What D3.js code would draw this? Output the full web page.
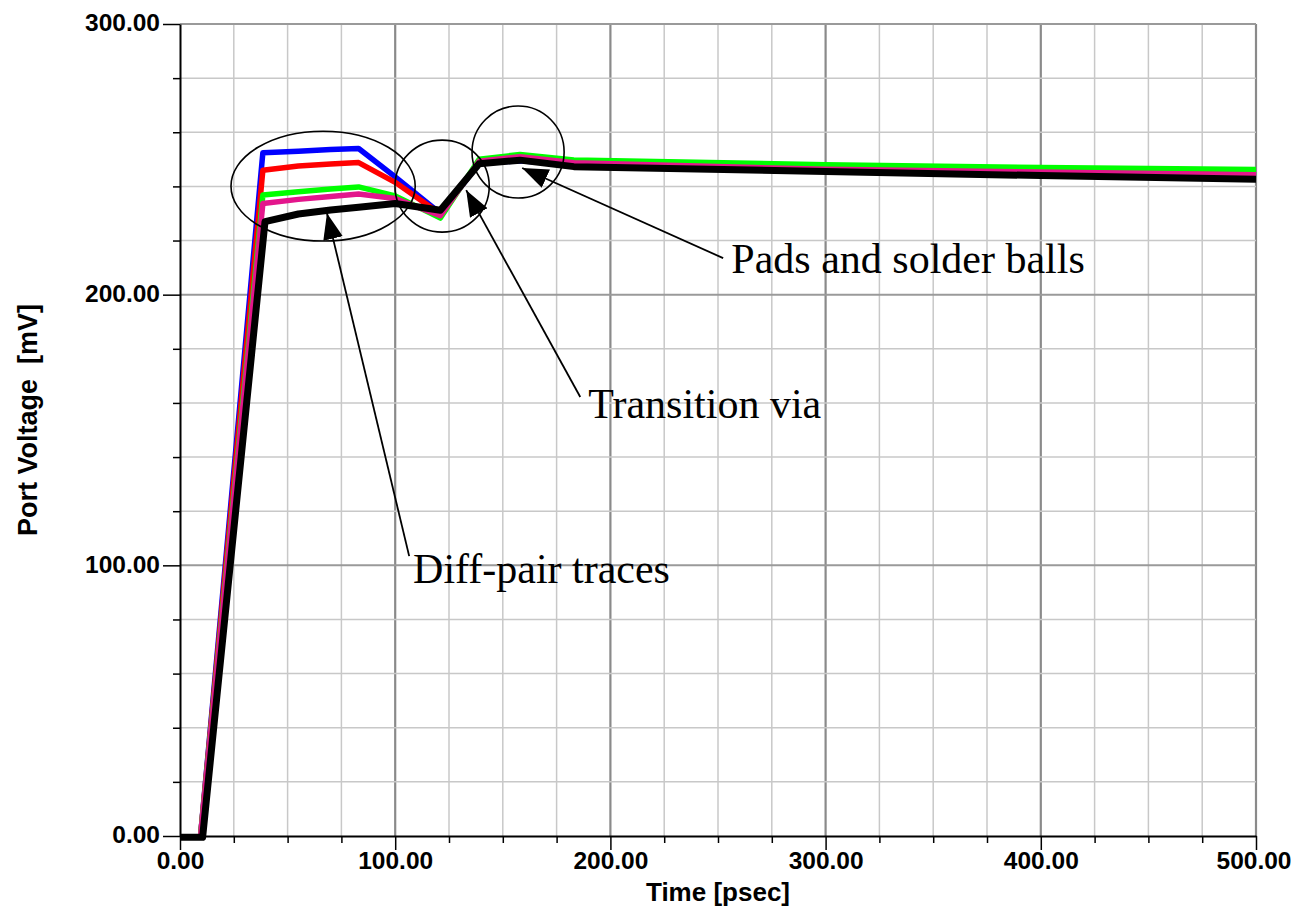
<!DOCTYPE html>
<html>
<head>
<meta charset="utf-8">
<script src="https://cdn.jsdelivr.net/npm/d3@7"></script>
<style>
  html, body { margin: 0; padding: 0; background: #fff; }
  svg { display: block; }
</style>
</head>
<body>
<svg id="chart" width="1293" height="909"></svg>
<script>
// Port voltage step response (TDR) for several interconnect models
const timeColored = [0, 9.5, 38.5, 55, 70, 83, 100, 121, 139, 158, 183, 300, 400, 500];
const timeBlack   = [0, 10.5, 39.5, 55, 70, 83, 100, 121, 139, 158, 183, 300, 400, 500];

const blueValues  = [-0.5, -0.5, 252.4, 253, 253.6, 254, 243.5, 230, 248.5, 249.5, 248, 246, 244.8, 243.5];
const redValues   = [-0.5, -0.5, 246, 247.5, 248.3, 248.8, 241.5, 229.8, 249, 251, 248.5, 246.5, 245.3, 244.5];
const greenValues = [-0.5, -0.5, 236.8, 238, 239, 239.8, 236.5, 228.3, 250, 251.8, 249.8, 248, 247, 246.2];
const pinkValues  = [-0.5, -0.5, 233.7, 235.2, 236.3, 237.2, 235.5, 229.2, 249.3, 251, 248.7, 246.3, 245.3, 244.3];
const blackValues = [-0.5, -0.5, 227, 229.8, 231.3, 232.3, 233.7, 231.2, 248.4, 249.7, 247.3, 245.5, 244, 242.6];

const xTickLabels = ["0.00", "100.00", "200.00", "300.00", "400.00", "500.00"];
const yTickLabels = ["0.00", "100.00", "200.00", "300.00"];

// Callouts in data units (psec, mV)
const callouts = [
  { text: "Diff-pair traces",      textAt: [108.3, 93.5],  from: [106.5, 103.4], to: [68.3, 230.1] },
  { text: "Transition via",        textAt: [189.7, 154.4], from: [186, 162.2],   to: [133, 238.6] },
  { text: "Pads and solder balls", textAt: [256.2, 208],   from: [252.4, 213.5], to: [159, 246.8] }
];
const rings = [
  { cx: 66.5,  cy: 240.1, rx: 42.8, ry: 20.3 },
  { cx: 121.8, cy: 240.1, rx: 21.9, ry: 17.0 },
  { cx: 157.1, cy: 252.7, rx: 21.4, ry: 17.0 }
];

const plot = { left: 180, right: 1256, top: 24, bottom: 836 };

const x = d3.scaleLinear().domain([0, 500]).range([plot.left, plot.right]);
const y = d3.scaleLinear().domain([0, 300]).range([plot.bottom, plot.top]);

const svg = d3.select("#chart");
const sans = "'Liberation Sans', Arial, sans-serif";

// Grid
const grid = svg.append("g");
const xGrid = d3.range(25, 501, 25);
const yGrid = d3.range(20, 301, 20);
grid.selectAll("line.xg").data(xGrid).join("line")
  .attr("x1", d => x(d)).attr("x2", d => x(d))
  .attr("y1", plot.top).attr("y2", plot.bottom)
  .attr("stroke", d => d % 100 === 0 ? "#8a8a8a" : "#c8c8c8")
  .attr("stroke-width", d => d % 100 === 0 ? 2.2 : 1.5);
grid.selectAll("line.yg").data(yGrid).join("line")
  .attr("x1", plot.left).attr("x2", plot.right)
  .attr("y1", d => y(d)).attr("y2", d => y(d))
  .attr("stroke", d => d % 100 === 0 ? "#9a9a9a" : "#c8c8c8")
  .attr("stroke-width", d => d % 100 === 0 ? 2 : 1.5);

// Axes
const xAxis = d3.axisBottom(x)
  .tickValues(d3.range(0, 501, 25))
  .tickSizeInner(7).tickSizeOuter(0)
  .tickFormat(d => d % 100 === 0 ? xTickLabels[d / 100] : "");
const gx = svg.append("g").attr("transform", `translate(0,${plot.bottom})`).call(xAxis);
gx.select(".domain").attr("stroke", "#000").attr("stroke-width", 2);
gx.selectAll(".tick line").attr("stroke", "#000").attr("stroke-width", 1.5)
  .attr("y2", d => d % 100 === 0 ? 14 : 7);
gx.selectAll(".tick text")
  .attr("y", 0).attr("dy", 0)
  .attr("transform", "translate(0,33)")
  .attr("text-anchor", d => d === 500 ? "end" : "middle")
  .attr("x", d => d === 500 ? 35 : 0)
  .style("font-family", sans)
  .style("font-weight", "bold").style("font-size", "24.5px").attr("fill", "#000");

const yAxis = d3.axisLeft(y)
  .tickValues(d3.range(0, 301, 20))
  .tickSizeInner(7).tickSizeOuter(0)
  .tickFormat(d => d % 100 === 0 ? yTickLabels[d / 100] : "");
const gy = svg.append("g").attr("transform", `translate(${plot.left},0)`).call(yAxis);
gy.select(".domain").attr("stroke", "#000").attr("stroke-width", 2);
gy.selectAll(".tick line").attr("stroke", "#000").attr("stroke-width", 1.5)
  .attr("x2", d => d % 100 === 0 ? -17 : -7);
gy.selectAll(".tick text")
  .attr("x", -20).attr("dy", "0.28em")
  .style("font-family", sans)
  .style("font-weight", "bold").style("font-size", "24.5px").attr("fill", "#000");

// Axis titles
svg.append("text")
  .attr("x", (plot.left + plot.right) / 2).attr("y", 901)
  .attr("text-anchor", "middle")
  .style("font-family", sans)
  .style("font-weight", "bold").style("font-size", "26px")
  .text("Time [psec]");
svg.append("text")
  .attr("transform", "translate(37,420) rotate(-90)")
  .attr("text-anchor", "middle")
  .style("font-family", sans)
  .style("font-weight", "bold").style("font-size", "27px")
  .style("white-space", "pre")
  .text("Port Voltage  [mV]");

// Waveforms
const series = [
  { t: timeColored, v: blueValues,  color: "#0000ff", w: 5.5 },
  { t: timeColored, v: redValues,   color: "#ff0000", w: 5.5 },
  { t: timeColored, v: greenValues, color: "#00ff00", w: 5.5 },
  { t: timeColored, v: pinkValues,  color: "#e3168c", w: 5.5 },
  { t: timeBlack,   v: blackValues, color: "#000000", w: 7 }
];
const line = d3.line().x(d => x(d[0])).y(d => y(d[1]));
svg.append("g").selectAll("path").data(series).join("path")
  .attr("d", s => line(s.t.map((t, i) => [t, s.v[i]])))
  .attr("fill", "none")
  .attr("stroke", s => s.color)
  .attr("stroke-width", s => s.w)
  .attr("stroke-linejoin", "round");

// Callout rings
svg.append("g").selectAll("ellipse").data(rings).join("ellipse")
  .attr("cx", d => x(d.cx)).attr("cy", d => y(d.cy))
  .attr("rx", d => x(d.cx + d.rx) - x(d.cx))
  .attr("ry", d => y(d.cy) - y(d.cy + d.ry))
  .attr("fill", "none").attr("stroke", "#000").attr("stroke-width", 1.6);

// Callout arrows and labels
const defs = svg.append("defs");
defs.append("marker")
  .attr("id", "head").attr("viewBox", "0 0 26 20")
  .attr("refX", 26).attr("refY", 10)
  .attr("markerWidth", 26).attr("markerHeight", 20)
  .attr("markerUnits", "userSpaceOnUse")
  .attr("orient", "auto")
  .append("path").attr("d", "M0,0 L26,10 L0,20 Z").attr("fill", "#000");

const cg = svg.append("g");
cg.selectAll("line").data(callouts).join("line")
  .attr("x1", d => x(d.from[0])).attr("y1", d => y(d.from[1]))
  .attr("x2", d => x(d.to[0])).attr("y2", d => y(d.to[1]))
  .attr("stroke", "#000").attr("stroke-width", 1.8)
  .attr("marker-end", "url(#head)");
cg.selectAll("text").data(callouts).join("text")
  .attr("x", d => x(d.textAt[0])).attr("y", d => y(d.textAt[1]))
  .style("font-family", "'Liberation Serif', 'Times New Roman', serif")
  .style("font-size", "42px")
  .text(d => d.text);
</script>
</body>
</html>
